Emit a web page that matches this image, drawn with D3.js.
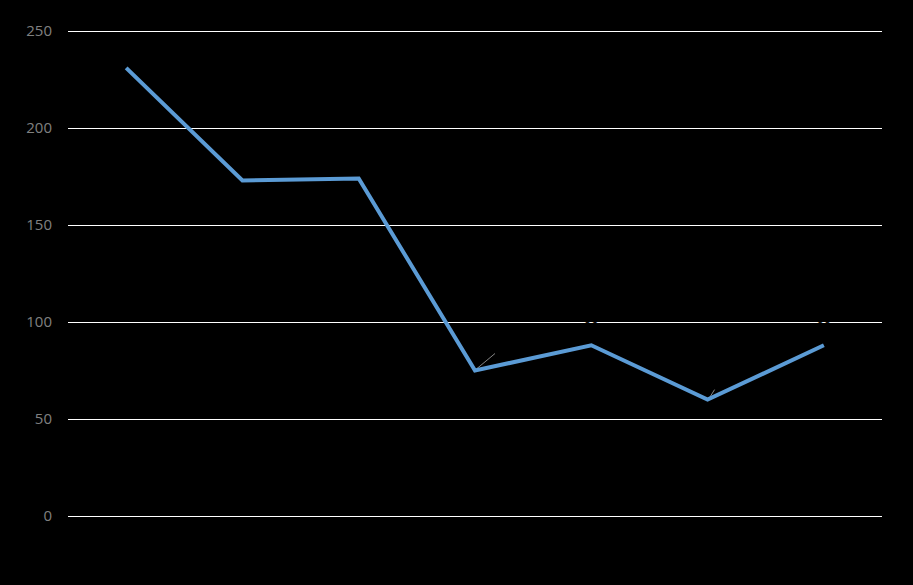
<!DOCTYPE html>
<html><head><meta charset="utf-8">
<script src="https://cdn.jsdelivr.net/npm/d3@7"></script>
<style>html,body{margin:0;padding:0;background:#000;}svg{display:block;}</style>
</head><body>
<svg id="chart" width="913" height="585"></svg>
<script>
const categories = ["1","2","3","4","5","6","7"];
const values = [231, 173, 174, 75, 88, 60, 88];
const yTicks = [0, 50, 100, 150, 200, 250];

const W = 913, H = 585;
const margin = {left: 68, right: 31, top: 31, bottom: 69};
const svg = d3.select("#chart");
svg.append("rect").attr("width", W).attr("height", H).attr("fill", "#000");

const x = d3.scalePoint().domain(categories).range([margin.left, W - margin.right]).padding(0.5);
const y = d3.scaleLinear().domain([0, 250]).range([H - margin.bottom, margin.top]);

const yAxis = d3.axisLeft(y).tickValues(yTicks).tickSize(-(W - margin.left - margin.right)).tickPadding(16);
const gy = svg.append("g").attr("transform", `translate(${margin.left},0)`).call(yAxis);
gy.select(".domain").remove();
gy.selectAll(".tick line").attr("stroke", "#ffffff").attr("stroke-width", 1).attr("shape-rendering", "crispEdges");
gy.selectAll(".tick text").attr("fill", "#808080").attr("font-family", "'Open Sans', 'DejaVu Sans', sans-serif").attr("font-size", 15);

// leader lines for a couple of labels
const leaders = [{i: 3, dx: 20, dy: -17}, {i: 5, dx: 7, dy: -10}];
svg.selectAll("line.leader").data(leaders).enter().append("line")
  .attr("x1", d => x(categories[d.i]) + 2).attr("y1", d => y(values[d.i]) - 2)
  .attr("x2", d => x(categories[d.i]) + d.dx).attr("y2", d => y(values[d.i]) + d.dy)
  .attr("stroke", "#a6a6a6").attr("stroke-width", 0.8);

const line = d3.line().x((d, i) => x(categories[i])).y(d => y(d));
svg.append("path").datum(values).attr("d", line)
  .attr("fill", "none").attr("stroke", "#5B9BD5").attr("stroke-width", 4)
  .attr("stroke-linejoin", "miter").attr("stroke-linecap", "butt");

// data labels (dark, nearly invisible as in reference)
svg.selectAll("text.lbl").data(values).enter().append("text")
  .attr("x", (d, i) => x(categories[i]))
  .attr("y", d => y(d) - 18)
  .attr("text-anchor", "middle")
  .attr("fill", "#000").attr("font-family", "'Open Sans', sans-serif").attr("font-size", 13)
  .text(d => d);
</script>
</body></html>
